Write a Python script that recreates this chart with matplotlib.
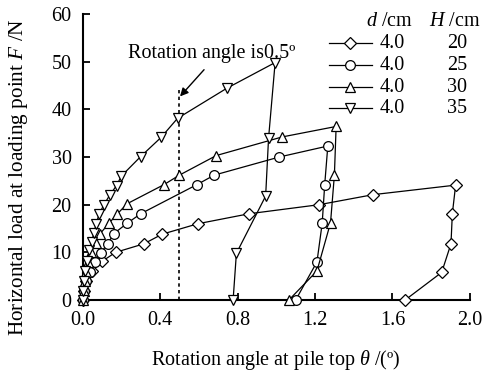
import matplotlib
matplotlib.use("Agg")
import matplotlib.pyplot as plt

plt.rcParams['font.family'] = ['Liberation Serif', 'DejaVu Serif']
plt.rcParams['mathtext.fontset'] = 'custom'
plt.rcParams['mathtext.it'] = 'Liberation Serif:italic'
plt.rcParams['mathtext.rm'] = 'Liberation Serif'

# Pile diameter and embedded length for each test
diameters = ["4.0", "4.0", "4.0", "4.0"]
embed_H = ["20", "25", "30", "35"]
markers = ["D", "o", "^", "v"]

# Rotation angle (deg) and horizontal load (N), loading then unloading
theta_20 = [0.0, 0.005, 0.02, 0.05, 0.10, 0.17, 0.317, 0.41, 0.595, 0.86, 1.222, 1.50, 1.926,
            1.909, 1.902, 1.854, 1.665]
load_20 = [0.0, 2.0, 4.0, 6.0, 8.1, 10.0, 11.8, 13.8, 16.0, 18.1, 20.0, 22.1, 24.1,
           18.1, 11.8, 5.8, 0.0]

theta_25 = [0.0, 0.005, 0.015, 0.04, 0.065, 0.093, 0.13, 0.16, 0.23, 0.30, 0.59, 0.68, 1.016,
            1.266, 1.25, 1.237, 1.21, 1.10]
load_25 = [0.0, 2.0, 4.0, 5.9, 8.0, 9.9, 11.8, 13.9, 16.1, 18.1, 24.2, 26.2, 30.0,
           32.3, 24.2, 16.1, 8.0, 0.0]

theta_30 = [0.0, 0.005, 0.01, 0.015, 0.03, 0.045, 0.07, 0.09, 0.136, 0.18, 0.23, 0.42, 0.50,
            0.69, 1.03, 1.309, 1.30, 1.28, 1.21, 1.065]
load_30 = [0.0, 2.0, 4.0, 5.9, 8.0, 10.1, 11.9, 13.9, 16.1, 18.1, 20.2, 24.2, 26.2,
           30.3, 34.2, 36.4, 26.2, 16.2, 6.1, 0.0]

theta_35 = [0.0, 0.002, 0.006, 0.012, 0.024, 0.035, 0.046, 0.058, 0.07, 0.085, 0.11, 0.14,
            0.175, 0.20, 0.30, 0.405, 0.49, 0.744, 0.994, 0.96, 0.945, 0.794, 0.777]
load_35 = [0.0, 2.0, 4.0, 6.0, 8.2, 10.4, 12.2, 14.0, 16.0, 18.0, 20.0, 22.0,
           24.0, 26.0, 30.1, 34.1, 38.1, 44.4, 49.8, 33.9, 21.8, 9.8, 0.0]

thetas = [theta_20, theta_25, theta_30, theta_35]
loads = [load_20, load_25, load_30, load_35]

x_ticks = [0.0, 0.4, 0.8, 1.2, 1.6, 2.0]
y_ticks = [0, 10, 20, 30, 40, 50, 60]
marked_angle = 0.5

FS = 14.5

fig = plt.figure(figsize=(4.86, 3.76), dpi=100)
ax = fig.add_axes([0.170, 0.202, 0.797, 0.761])

def marker_size(m):
    return 6.0 if m == "D" else 7.0

for th, f, m in zip(thetas, loads, markers):
    ax.plot(th, f, color="black", lw=0.9, marker=m, ms=marker_size(m),
            mfc="white", mec="black", mew=0.9, clip_on=False, zorder=3)

# Dotted reference line at the marked rotation angle
ax.plot([marked_angle, marked_angle], [0, 44.4], color="black", lw=1.2,
        ls=(0, (2, 2)), zorder=2)
ax.annotate("", xy=(0.503, 42.7), xytext=(0.627, 48.3),
            arrowprops=dict(arrowstyle="-|>", color="black", lw=1.0,
                            mutation_scale=12, shrinkA=0, shrinkB=0))
ax.text(0.665, 51.6, "Rotation angle is0.5º", ha="center", va="center", fontsize=FS)

ax.set_xlim(0, 2.0)
ax.set_ylim(0, 60)
ax.set_xticks(x_ticks)
ax.set_xticklabels([f"{v:.1f}" for v in x_ticks])
ax.set_yticks(y_ticks)
for s in ["top", "right"]:
    ax.spines[s].set_visible(False)
for s in ["left", "bottom"]:
    ax.spines[s].set_linewidth(1.5)
ax.tick_params(direction="in", length=5, width=1.3, labelsize=FS, pad=8)

ax.set_xlabel(r"Rotation angle at pile top $\it{\theta}$ /(º)", fontsize=FS, labelpad=13)
fig.text(19 / 486, 1 - 177 / 376, r"Horizontal load at loading point $\it{F}$ /N",
         rotation=90, ha="center", va="center", fontsize=15.3)

# Key: sample line with marker, diameter and embedded length per row
row_y = [0.898, 0.821, 0.744, 0.671]
x_line = [0.636, 0.747]
for m, d, hv, y in zip(markers, diameters, embed_H, row_y):
    ax.plot(x_line, [y, y], color="black", lw=0.9, transform=ax.transAxes, clip_on=False)
    ax.plot([sum(x_line) / 2], [y], marker=m, ms=marker_size(m), mfc="white", mec="black",
            mew=0.9, transform=ax.transAxes, clip_on=False)
    ax.text(0.768, y, d, transform=ax.transAxes, ha="left", va="center", fontsize=FS)
    ax.text(0.966, y, hv, transform=ax.transAxes, ha="center", va="center", fontsize=FS)

ax.text(0.791, 0.975, r"$\it{d}$ /cm", transform=ax.transAxes, ha="center", va="center",
        fontsize=FS)
ax.text(0.961, 0.975, r"$\it{H}$ /cm", transform=ax.transAxes, ha="center", va="center",
        fontsize=FS)

fig.savefig("out.png", dpi=100)
